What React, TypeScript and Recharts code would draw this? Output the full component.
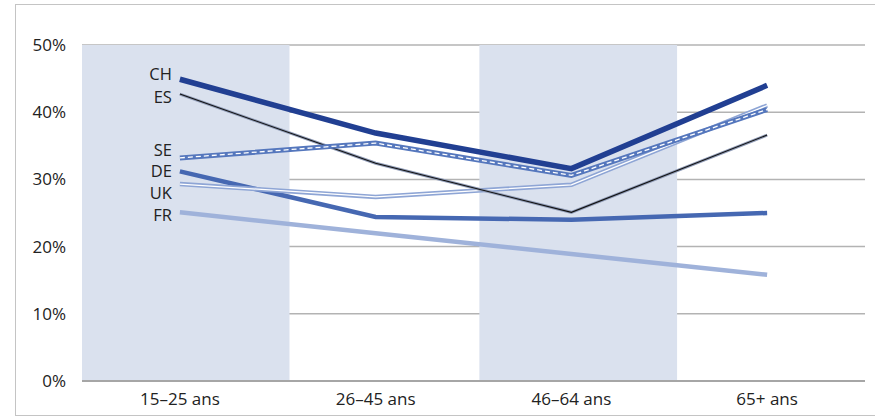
import React from 'react';
import { LineChart, Line, XAxis, YAxis, CartesianGrid, ReferenceArea } from 'recharts';

const categories = ['15–25 ans', '26–45 ans', '46–64 ans', '65+ ans'];

const CH = [44.9, 36.9, 31.6, 44.0];
const ES = [42.7, 32.4, 25.1, 36.6];
const SE = [33.2, 35.4, 30.6, 40.4];
const DE = [31.2, 24.4, 24.0, 25.0];
const UK = [29.3, 27.4, 29.2, 41.0];
const FR = [25.1, 22.0, 18.9, 15.8];

const yTicks = [0, 10, 20, 30, 40, 50];

const data = categories.map((name, i) => ({
    x: i,
    name,
    CH: CH[i],
    ES: ES[i],
    SE: SE[i],
    DE: DE[i],
    UK: UK[i],
    FR: FR[i],
}));

const FONT = '"Open Sans", sans-serif';

// label drawn next to the first point of each series
const firstLabel = (text: string, dy: number) => (p: any) => {
    if (p.index !== 0) return <g key={`d-${text}-${p.index}`} />;
    return (
        <text
            key={`l-${text}`}
            x={p.cx - 8}
            y={p.cy + dy}
            textAnchor="end"
            fontFamily={FONT}
            fontSize={16.5}
            fill="#222"
        >
            {text}
        </text>
    );
};

const App: React.FC = () => {
    return (
        <div style={{ position: 'absolute', left: 0, top: 0, width: 875, height: 419, background: '#fff', overflow: 'hidden' }}>
            <div
                style={{
                    position: 'absolute',
                    left: 15,
                    top: 4,
                    width: 900,
                    height: 412,
                    border: '1.5px solid #c4c4c4',
                    boxSizing: 'border-box',
                }}
            />
            <div style={{ position: 'absolute', left: 0, top: 0 }}>
                <LineChart width={875} height={419} data={data} margin={{ top: 45, right: 10, bottom: 8, left: 0 }}>
                    <ReferenceArea x1={-0.5} x2={0.56} y1={0} y2={50} fill="#dae1ee" fillOpacity={1} stroke="none" />
                    <ReferenceArea x1={1.53} x2={2.54} y1={0} y2={50} fill="#dae1ee" fillOpacity={1} stroke="none" />
                    <CartesianGrid vertical={false} stroke="#b3b3b3" strokeWidth={1.5} />
                    <XAxis
                        type="number"
                        dataKey="x"
                        domain={[-0.5, 3.5]}
                        ticks={[0, 1, 2, 3]}
                        tickFormatter={(v: number) => categories[v]}
                        axisLine={{ stroke: '#a6a6a6', strokeWidth: 2 }}
                        tickLine={false}
                        height={30}
                        tick={{ fontFamily: FONT, fontSize: 17, fill: '#222' }}
                        tickMargin={6}
                    />
                    <YAxis
                        domain={[0, 50]}
                        ticks={yTicks}
                        tickFormatter={(v: number) => `${v}%`}
                        axisLine={false}
                        tickLine={false}
                        width={82}
                        tick={{ fontFamily: FONT, fontSize: 17, fill: '#222' }}
                        tickMargin={10}
                    />
                    <Line dataKey="FR" stroke="#9fb2da" strokeWidth={4.5} dot={firstLabel('FR', 9)} activeDot={false} isAnimationActive={false} />
                    <Line dataKey="DE" stroke="#4668b2" strokeWidth={4.5} dot={firstLabel('DE', 6)} activeDot={false} isAnimationActive={false} />
                    <Line dataKey="UK" stroke="#8ea5d5" strokeWidth={4.5} dot={firstLabel('UK', 15)} activeDot={false} isAnimationActive={false} />
                    <Line dataKey="UK" stroke="#ffffff" strokeWidth={1.3} dot={false} activeDot={false} isAnimationActive={false} />
                    <Line dataKey="ES" stroke="#8f9bb6" strokeWidth={3} dot={firstLabel('ES', 9)} activeDot={false} isAnimationActive={false} />
                    <Line dataKey="ES" stroke="#111111" strokeWidth={1.1} dot={false} activeDot={false} isAnimationActive={false} />
                    <Line dataKey="SE" stroke="#5577bd" strokeWidth={5} dot={firstLabel('SE', -2)} activeDot={false} isAnimationActive={false} />
                    <Line dataKey="SE" stroke="#ffffff" strokeWidth={1.3} strokeDasharray="5 3" dot={false} activeDot={false} isAnimationActive={false} />
                    <Line dataKey="CH" stroke="#213f92" strokeWidth={5.5} dot={firstLabel('CH', 1)} activeDot={false} isAnimationActive={false} />
                </LineChart>
            </div>
        </div>
    );
};

export default App;
